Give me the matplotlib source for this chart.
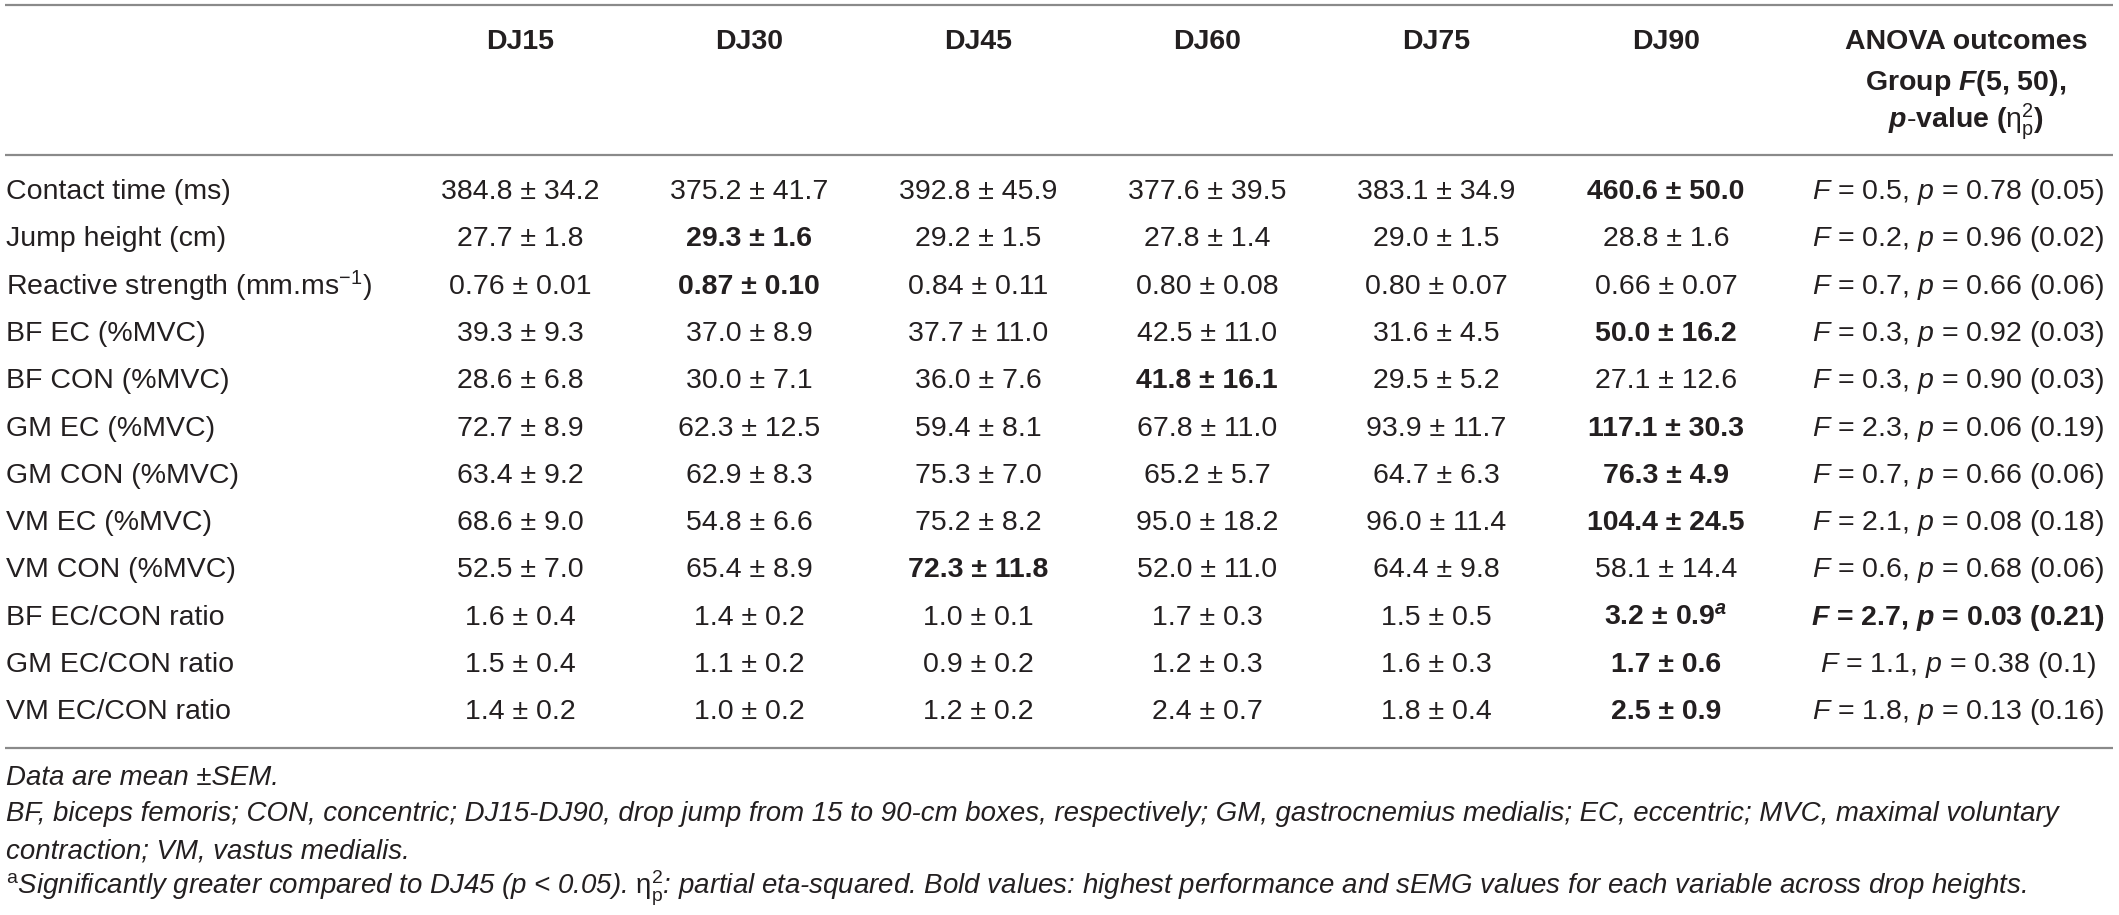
import matplotlib
matplotlib.use("Agg")
import matplotlib.pyplot as plt

plt.rcParams['font.family'] = ['Liberation Sans', 'DejaVu Sans']
plt.rcParams['mathtext.fontset'] = 'custom'
plt.rcParams['mathtext.rm'] = 'Liberation Sans'
plt.rcParams['mathtext.it'] = 'Liberation Sans:italic'
plt.rcParams['mathtext.bf'] = 'Liberation Sans:bold'
plt.rcParams['mathtext.bfit'] = 'Liberation Sans:italic:bold'
plt.rcParams['mathtext.sf'] = 'Liberation Sans'

# ---------------- data ----------------
columns = ["DJ15", "DJ30", "DJ45", "DJ60", "DJ75", "DJ90"]
row_labels = [
    "Contact time (ms)",
    "Jump height (cm)",
    r"Reactive strength (mm.ms$^{-1}$)",
    "BF EC (%MVC)",
    "BF CON (%MVC)",
    "GM EC (%MVC)",
    "GM CON (%MVC)",
    "VM EC (%MVC)",
    "VM CON (%MVC)",
    "BF EC/CON ratio",
    "GM EC/CON ratio",
    "VM EC/CON ratio",
]
dj15 = ["384.8 ± 34.2", "27.7 ± 1.8", "0.76 ± 0.01", "39.3 ± 9.3", "28.6 ± 6.8", "72.7 ± 8.9",
        "63.4 ± 9.2", "68.6 ± 9.0", "52.5 ± 7.0", "1.6 ± 0.4", "1.5 ± 0.4", "1.4 ± 0.2"]
dj30 = ["375.2 ± 41.7", "29.3 ± 1.6", "0.87 ± 0.10", "37.0 ± 8.9", "30.0 ± 7.1", "62.3 ± 12.5",
        "62.9 ± 8.3", "54.8 ± 6.6", "65.4 ± 8.9", "1.4 ± 0.2", "1.1 ± 0.2", "1.0 ± 0.2"]
dj45 = ["392.8 ± 45.9", "29.2 ± 1.5", "0.84 ± 0.11", "37.7 ± 11.0", "36.0 ± 7.6", "59.4 ± 8.1",
        "75.3 ± 7.0", "75.2 ± 8.2", "72.3 ± 11.8", "1.0 ± 0.1", "0.9 ± 0.2", "1.2 ± 0.2"]
dj60 = ["377.6 ± 39.5", "27.8 ± 1.4", "0.80 ± 0.08", "42.5 ± 11.0", "41.8 ± 16.1", "67.8 ± 11.0",
        "65.2 ± 5.7", "95.0 ± 18.2", "52.0 ± 11.0", "1.7 ± 0.3", "1.2 ± 0.3", "2.4 ± 0.7"]
dj75 = ["383.1 ± 34.9", "29.0 ± 1.5", "0.80 ± 0.07", "31.6 ± 4.5", "29.5 ± 5.2", "93.9 ± 11.7",
        "64.7 ± 6.3", "96.0 ± 11.4", "64.4 ± 9.8", "1.5 ± 0.5", "1.6 ± 0.3", "1.8 ± 0.4"]
dj90 = ["460.6 ± 50.0", "28.8 ± 1.6", "0.66 ± 0.07", "50.0 ± 16.2", "27.1 ± 12.6", "117.1 ± 30.3",
        "76.3 ± 4.9", "104.4 ± 24.5", "58.1 ± 14.4", "3.2 ± 0.9", "1.7 ± 0.6", "2.5 ± 0.9"]
anova_F = ["0.5", "0.2", "0.7", "0.3", "0.3", "2.3", "0.7", "2.1", "0.6", "2.7", "1.1", "1.8"]
anova_p = ["0.78", "0.96", "0.66", "0.92", "0.90", "0.06", "0.66", "0.08", "0.68", "0.03", "0.38", "0.13"]
anova_eta = ["0.05", "0.02", "0.06", "0.03", "0.03", "0.19", "0.06", "0.18", "0.06", "0.21", "0.1", "0.16"]
# column index (0..5) holding the bold (highest) value per row
bold_col = [5, 1, 1, 5, 3, 5, 5, 5, 2, 5, 5, 5]
anova_bold = [False] * 9 + [True, False, False]
superscript_a = [(9, 5)]

footnotes = [
    "Data are mean ±SEM.",
    "BF, biceps femoris; CON, concentric; DJ15-DJ90, drop jump from 15 to 90-cm boxes, respectively; GM, gastrocnemius medialis; EC, eccentric; MVC, maximal voluntary",
    "contraction; VM, vastus medialis.",
    r"$^{\mathrm{a}}$Significantly greater compared to DJ45 ($\mathit{p}$ < 0.05). $\mathrm{η}^{2}_{\mathrm{p}}$: partial eta-squared. Bold values: highest performance and sEMG values for each variable across drop heights.",
]

# ---------------- layout ----------------
W, H = 2119, 915
fig = plt.figure(figsize=(W / 100, H / 100), dpi=100)
ax = fig.add_axes([0, 0, 1, 1])
ax.set_xlim(0, W)
ax.set_ylim(H, 0)
ax.axis('off')

TXT = '#231f20'
LINE = '#8a8a8a'
FS = 20.5
FS_FOOT = 19.9
col_x = [520, 749, 978, 1207, 1436, 1666]
anova_x = 1958
label_x = 6
row_y0, row_dy = 192, 47.3
x0, x1 = 5, 2113

for yl in (5, 155, 748):
    ax.plot([x0, x1], [yl, yl], color=LINE, lw=1.6, solid_capstyle='butt')

# header
for cx, name in zip(col_x, columns):
    ax.text(cx, 42, name, ha='center', va='center', fontsize=FS, fontweight='bold', color=TXT)
ax.text(anova_x + 8, 42, "ANOVA outcomes", ha='center', va='center', fontsize=FS, fontweight='bold', color=TXT)
ax.text(anova_x + 8, 83, r"$\mathbf{Group}\ \mathbfit{F}\mathbf{(5{,}\ 50)}\mathbf{,}$", ha='center', va='center',
        fontsize=FS, color=TXT)
ax.text(anova_x + 8, 122, r"$\mathbfit{p}\mathbf{\text{-}value\ (}\mathrm{η}^{2}_{\mathrm{p}}\mathbf{)}$",
        ha='center', va='center', fontsize=FS, color=TXT)

cols = [dj15, dj30, dj45, dj60, dj75, dj90]
for i, lab in enumerate(row_labels):
    y = row_y0 + i * row_dy
    ax.text(label_x, y, lab, ha='left', va='center', fontsize=FS, color=TXT)
    for j, col in enumerate(cols):
        s = col[i]
        bold = (bold_col[i] == j)
        if (i, j) in superscript_a:
            s = s + r"$^{\mathbfit{a}}$"
        ax.text(col_x[j], y, s, ha='center', va='center', fontsize=FS, color=TXT,
                fontweight='bold' if bold else 'normal')
    if anova_bold[i]:
        s = r"$\mathbfit{F}$ = " + anova_F[i] + r", $\mathbfit{p}$ = " + anova_p[i] + " (" + anova_eta[i] + ")"
        ax.text(anova_x, y, s, ha='center', va='center', fontsize=FS, color=TXT, fontweight='bold')
    else:
        s = r"$\mathit{F}$ = " + anova_F[i] + r", $\mathit{p}$ = " + anova_p[i] + " (" + anova_eta[i] + ")"
        ax.text(anova_x, y, s, ha='center', va='center', fontsize=FS, color=TXT)

foot_y = [778, 814, 851, 888]
for fy, t in zip(foot_y, footnotes):
    ax.text(label_x, fy, t, ha='left', va='center', fontsize=FS_FOOT, color=TXT, fontstyle='italic')

fig.savefig("out.png", dpi=100, facecolor='white')
